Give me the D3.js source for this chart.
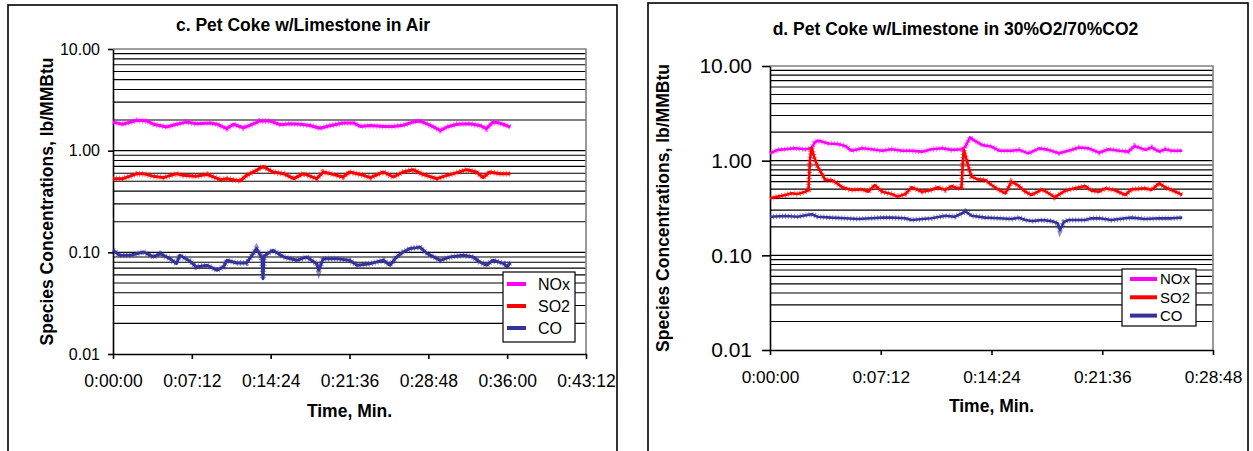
<!DOCTYPE html>
<html>
<head>
<meta charset="utf-8">
<script src="https://cdn.jsdelivr.net/npm/d3@7"></script>
<style>
body { margin: 0; background: #fff; }
svg text { font-family: Arial, "Liberation Sans", sans-serif; fill: #000; }
</style>
</head>
<body>
<svg id="chart" width="1253" height="451"></svg>
<script>
const seriesNames = ['NOx', 'SO2', 'CO']
const colors = ['#ff00ff', '#ff0000', '#333399']

const yTicks = [0.01, 0.1, 1, 10]
const yLabels = ['0.01', '0.10', '1.00', '10.00']

const timeTicksC = [0, 7.2, 14.4, 21.6, 28.8, 36, 43.2]
const timeLabelsC = ['0:00:00', '0:07:12', '0:14:24', '0:21:36', '0:28:48', '0:36:00', '0:43:12']
const timeTicksD = [0, 7.2, 14.4, 21.6, 28.8]
const timeLabelsD = ['0:00:00', '0:07:12', '0:14:24', '0:21:36', '0:28:48']

// chart c, air firing (time in minutes, lb/MMBtu)
const noxAirT = [0.0, 0.9, 2.2, 3.1, 3.7, 4.9, 5.8, 6.7, 7.6, 8.9, 9.5, 10.4, 11.0, 11.9, 12.5, 13.4, 14.3, 15.3, 16.2, 17.1, 18.0, 18.9, 19.8, 21.0, 22.0, 22.6, 23.5, 24.7, 25.6, 26.5, 27.4, 28.0, 29.0, 29.9, 30.5, 31.4, 32.6, 33.5, 34.1, 34.7, 35.3, 36.3]
const noxAir = [1.91, 1.82, 1.99, 1.96, 1.82, 1.71, 1.82, 1.91, 1.84, 1.87, 1.82, 1.65, 1.82, 1.68, 1.77, 1.96, 1.96, 1.80, 1.84, 1.82, 1.77, 1.66, 1.76, 1.87, 1.87, 1.73, 1.77, 1.73, 1.73, 1.78, 1.91, 1.96, 1.77, 1.58, 1.71, 1.82, 1.84, 1.77, 1.65, 1.91, 1.87, 1.71]
const so2AirT = [0.0, 0.9, 2.2, 2.8, 3.7, 4.6, 5.8, 6.4, 7.6, 8.6, 9.8, 10.4, 11.6, 12.2, 13.1, 13.7, 14.6, 15.6, 16.5, 17.4, 18.6, 19.2, 20.1, 21.0, 21.6, 22.9, 23.5, 24.7, 25.6, 26.5, 27.4, 28.3, 29.6, 30.2, 31.1, 32.3, 33.2, 33.8, 34.4, 35.3, 36.3]
const so2Air = [0.530, 0.530, 0.594, 0.594, 0.559, 0.543, 0.594, 0.572, 0.559, 0.585, 0.519, 0.530, 0.503, 0.572, 0.640, 0.700, 0.617, 0.594, 0.530, 0.594, 0.530, 0.617, 0.585, 0.551, 0.617, 0.572, 0.543, 0.617, 0.551, 0.617, 0.650, 0.585, 0.530, 0.559, 0.594, 0.650, 0.617, 0.543, 0.617, 0.594, 0.594]
const coAirT = [0.0, 0.6, 1.6, 2.8, 3.7, 4.3, 5.2, 5.8, 6.1, 7.0, 7.6, 8.6, 9.5, 10.1, 10.4, 11.3, 12.2, 12.8, 13.1, 13.6, 13.7, 13.8, 14.6, 15.6, 16.8, 17.7, 18.6, 18.8, 19.2, 20.4, 21.6, 22.3, 23.5, 24.7, 25.3, 25.9, 26.5, 27.1, 27.7, 28.0, 28.7, 29.9, 30.8, 32.0, 32.9, 33.5, 34.1, 34.7, 35.7, 36.0, 36.3]
const coAir = [0.105, 0.0935, 0.0935, 0.1008, 0.0901, 0.0971, 0.0867, 0.0774, 0.0935, 0.0823, 0.0718, 0.0746, 0.0666, 0.0718, 0.0835, 0.0786, 0.0786, 0.0971, 0.1088, 0.088, 0.055, 0.092, 0.1047, 0.0901, 0.0835, 0.0901, 0.0774, 0.0666, 0.0867, 0.0867, 0.0835, 0.0746, 0.0774, 0.0835, 0.0746, 0.0901, 0.1008, 0.1088, 0.1112, 0.1129, 0.0971, 0.0835, 0.0901, 0.0935, 0.0901, 0.0804, 0.0746, 0.0835, 0.0774, 0.0718, 0.0804]

// chart d, 30%O2/70%CO2 firing
const noxOxyT = [0.0, 0.5, 1.0, 1.6, 2.3, 2.7, 2.9, 3.1, 3.8, 4.4, 4.9, 5.3, 6.0, 6.6, 7.3, 7.9, 8.6, 9.2, 9.9, 10.5, 11.2, 11.8, 12.5, 12.7, 13.0, 13.3, 13.8, 14.4, 14.9, 15.7, 16.2, 16.8, 17.5, 18.1, 18.8, 19.4, 20.1, 20.7, 21.4, 22.0, 22.7, 23.3, 23.7, 24.4, 24.8, 25.3, 25.7, 26.1, 26.8]
const noxOxy = [1.195, 1.30, 1.32, 1.35, 1.32, 1.35, 1.55, 1.63, 1.52, 1.50, 1.43, 1.275, 1.35, 1.32, 1.275, 1.32, 1.275, 1.275, 1.245, 1.32, 1.35, 1.30, 1.32, 1.41, 1.76, 1.63, 1.46, 1.41, 1.275, 1.275, 1.30, 1.195, 1.35, 1.30, 1.195, 1.275, 1.38, 1.35, 1.215, 1.32, 1.275, 1.245, 1.43, 1.30, 1.38, 1.245, 1.32, 1.275, 1.275]
const so2OxyT = [0.0, 0.5, 1.0, 1.4, 1.8, 2.3, 2.5, 2.6, 2.7, 2.9, 3.1, 3.6, 4.0, 4.2, 4.7, 5.3, 6.0, 6.4, 6.8, 7.3, 7.9, 8.3, 8.8, 9.2, 9.9, 10.5, 10.9, 11.4, 11.8, 12.2, 12.45, 12.55, 12.6, 12.9, 13.1, 13.5, 14.0, 14.4, 14.9, 15.3, 15.7, 16.1, 16.6, 17.0, 17.7, 18.3, 18.5, 19.2, 19.8, 20.5, 20.9, 21.4, 21.8, 22.4, 23.1, 23.5, 24.4, 24.8, 25.3, 25.7, 26.1, 26.6, 26.8]
const so2Oxy = [0.400, 0.417, 0.434, 0.452, 0.444, 0.470, 0.490, 1.02, 1.38, 1.06, 0.864, 0.625, 0.625, 0.600, 0.523, 0.490, 0.498, 0.470, 0.553, 0.470, 0.444, 0.417, 0.444, 0.523, 0.470, 0.490, 0.523, 0.490, 0.540, 0.510, 0.523, 1.05, 1.30, 0.864, 0.678, 0.635, 0.625, 0.553, 0.490, 0.452, 0.600, 0.553, 0.470, 0.434, 0.498, 0.434, 0.410, 0.482, 0.510, 0.540, 0.482, 0.470, 0.510, 0.490, 0.434, 0.498, 0.510, 0.490, 0.576, 0.523, 0.490, 0.452, 0.434]
const coOxyT = [0.0, 1.0, 1.8, 2.7, 3.1, 4.0, 4.9, 5.7, 6.6, 7.3, 7.9, 8.8, 9.2, 9.9, 10.5, 11.4, 12.0, 12.5, 12.7, 13.1, 14.0, 14.9, 15.7, 16.2, 16.6, 17.0, 17.7, 18.3, 18.7, 18.85, 19.1, 19.4, 20.5, 20.9, 21.4, 22.2, 23.1, 23.5, 24.4, 25.3, 26.1, 26.8]
const coOxy = [0.256, 0.260, 0.256, 0.272, 0.256, 0.250, 0.246, 0.242, 0.246, 0.250, 0.250, 0.246, 0.236, 0.242, 0.246, 0.262, 0.256, 0.278, 0.292, 0.262, 0.250, 0.246, 0.242, 0.250, 0.236, 0.230, 0.236, 0.230, 0.218, 0.185, 0.225, 0.236, 0.236, 0.246, 0.246, 0.236, 0.246, 0.250, 0.242, 0.246, 0.246, 0.250]

const zip = (ts, vs) => ts.map((t, i) => ({ t: t, v: vs[i] }))

const svg = d3.select('#chart')

const createChart = (cfg) => {
    const g = svg.append('g')
    const xScale = d3.scaleLinear().domain([0, cfg.xMax]).range([cfg.left, cfg.right])
    const yScale = d3.scaleLog().domain([0.01, 10]).range([cfg.bottom, cfg.top])

    // outer frame (runs off the bottom of the picture)
    g.append('rect')
        .attr('x', cfg.frame[0]).attr('y', cfg.frame[1])
        .attr('width', cfg.frame[2]).attr('height', 500)
        .attr('fill', '#fff').attr('stroke', '#000').attr('stroke-width', 1.6)

    g.append('text')
        .attr('x', cfg.titleX).attr('y', cfg.titleY)
        .attr('text-anchor', 'middle')
        .style('font-size', '17.5px').style('font-weight', 'bold')
        .text(cfg.title)

    // log gridlines
    g.selectAll('line.grid')
        .data(yScale.ticks().filter(d => d > 0.01 && d < 10))
        .enter()
        .append('line')
        .attr('class', 'grid')
        .attr('x1', cfg.left).attr('x2', cfg.right)
        .attr('y1', d => yScale(d)).attr('y2', d => yScale(d))
        .attr('stroke', '#000').attr('stroke-width', 1.1)

    // plot border top / right
    g.append('path')
        .attr('d', `M${cfg.left},${yScale(10)}H${cfg.right}V${cfg.bottom}`)
        .attr('fill', 'none').attr('stroke', '#808080').attr('stroke-width', 1.6)

    const xAxis = d3.axisBottom(xScale)
        .tickValues(cfg.xTicks)
        .tickFormat((d, i) => cfg.xLabels[i])
        .tickSize(5).tickSizeOuter(0).tickPadding(cfg.xPad)
    const yAxis = d3.axisLeft(yScale)
        .tickValues(yTicks)
        .tickFormat((d, i) => yLabels[i])
        .tickSize(cfg.yTick).tickSizeOuter(0).tickPadding(cfg.yPad)

    const gx = g.append('g')
        .attr('transform', `translate(0, ${cfg.bottom})`)
        .call(xAxis)
    const gy = g.append('g')
        .attr('transform', `translate(${cfg.left}, 0)`)
        .call(yAxis)
    ;[gx, gy].forEach(a => {
        a.select('.domain').attr('stroke', '#000').attr('stroke-width', 1.6)
        a.selectAll('.tick line').attr('stroke', '#000').attr('stroke-width', 1.6)
        a.selectAll('text').attr('fill', '#000').style('font-family', 'Arial, "Liberation Sans", sans-serif')
    })
    gx.selectAll('text').style('font-size', cfg.xFont + 'px')
    gy.selectAll('text').style('font-size', cfg.yFont + 'px')

    g.append('text')
        .attr('transform', `translate(${cfg.yTitleX}, ${(cfg.top + cfg.bottom) / 2}) rotate(-90)`)
        .attr('text-anchor', 'middle').attr('dy', '0.35em')
        .style('font-size', '17.5px').style('font-weight', 'bold')
        .text('Species Concentrations, lb/MMBtu')
    g.append('text')
        .attr('x', (cfg.left + cfg.right) / 2).attr('y', cfg.xTitleY)
        .attr('text-anchor', 'middle')
        .style('font-size', '17.5px').style('font-weight', 'bold')
        .text('Time, Min.')

    const line = d3.line().x(d => xScale(d.t)).y(d => yScale(d.v))
    cfg.series.forEach((s, i) => {
        g.append('path')
            .datum(s)
            .attr('d', line)
            .attr('fill', 'none')
            .attr('stroke', colors[i])
            .attr('stroke-width', cfg.lineW)
            .attr('stroke-linejoin', 'round')
        // short vertical marker hatching along the trace
        g.append('path')
            .datum(s)
            .attr('d', line)
            .attr('fill', 'none')
            .attr('stroke', colors[i])
            .attr('stroke-width', cfg.lineW + 3)
            .attr('stroke-dasharray', '1 2')
            .attr('opacity', 0.55)
    })

    // legend
    const lg = cfg.legend
    g.append('rect')
        .attr('x', lg.x).attr('y', lg.y).attr('width', lg.w).attr('height', lg.h)
        .attr('fill', '#fff').attr('stroke', '#000').attr('stroke-width', 1.2)
    seriesNames.forEach((name, i) => {
        const cy = lg.y + lg.first + i * lg.step
        g.append('line')
            .attr('x1', lg.x + lg.s0).attr('x2', lg.x + lg.s1)
            .attr('y1', cy).attr('y2', cy)
            .attr('stroke', colors[i]).attr('stroke-width', 4)
        g.append('text')
            .attr('x', lg.x + lg.tx).attr('y', cy).attr('dy', '0.36em')
            .style('font-size', lg.font + 'px')
            .text(name)
    })
}

createChart({
    frame: [8, 5, 609],
    title: 'c. Pet Coke w/Limestone in Air',
    titleX: 303, titleY: 31,
    left: 113, right: 586, top: 49, bottom: 354,
    xMax: 43.2, xTicks: timeTicksC, xLabels: timeLabelsC,
    xPad: 16, xFont: 17.5, yFont: 16, yTick: 5, yPad: 8,
    yTitleX: 47, xTitleY: 417,
    lineW: 3,
    series: [zip(noxAirT, noxAir), zip(so2AirT, so2Air), zip(coAirT, coAir)],
    legend: { x: 503, y: 272, w: 72, h: 70, first: 12, step: 22, s0: 4, s1: 23, tx: 35, font: 16 }
})

createChart({
    frame: [648, 3, 600],
    title: 'd. Pet Coke w/Limestone in 30%O2/70%CO2',
    titleX: 955.5, titleY: 35,
    left: 770, right: 1213, top: 66, bottom: 350,
    xMax: 28.8, xTicks: timeTicksD, xLabels: timeLabelsD,
    xPad: 15.4, xFont: 17.3, yFont: 21, yTick: 8, yPad: 10,
    yTitleX: 663, xTitleY: 412,
    lineW: 2.6,
    series: [zip(noxOxyT, noxOxy), zip(so2OxyT, so2Oxy), zip(coOxyT, coOxy)],
    legend: { x: 1122, y: 269, w: 74, h: 57, first: 10, step: 18.3, s0: 8, s1: 35, tx: 38, font: 15 }
})
</script>
</body>
</html>
